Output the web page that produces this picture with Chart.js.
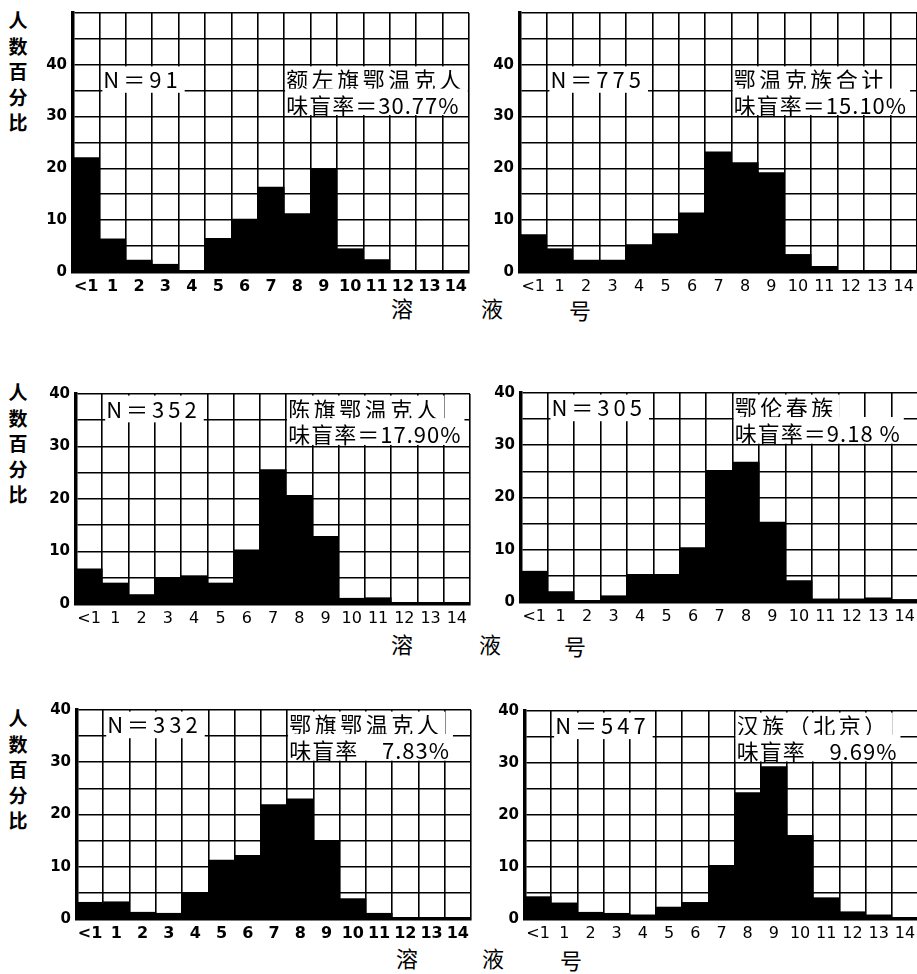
<!DOCTYPE html>
<html>
<head>
<meta charset="utf-8">
<script src="https://cdn.jsdelivr.net/npm/chart.js@4.4.1/dist/chart.umd.min.js"></script>
<style>
  body { margin: 0; background: #fff; width: 917px; height: 974px; overflow: hidden; position: relative; font-family: "Noto Sans CJK SC", sans-serif; }
  canvas { position: absolute; }
  .ytitle { position: absolute; left: 6px; width: 24px; font-size: 19px; line-height: 25.5px; font-weight: bold; text-align: center; }
  .xtitle { position: absolute; font-size: 22px; transform: translate(-50%, -50%); }
</style>
</head>
<body>
<div class="ytitle" style="top:7px">人<br>数<br>百<br>分<br>比</div>
<div class="ytitle" style="top:379px">人<br>数<br>百<br>分<br>比</div>
<div class="ytitle" style="top:705px">人<br>数<br>百<br>分<br>比</div>

<span class="xtitle" style="left:402px;top:307px">溶</span>
<span class="xtitle" style="left:492px;top:307px">液</span>
<span class="xtitle" style="left:580px;top:309px">号</span>
<span class="xtitle" style="left:402px;top:643px">溶</span>
<span class="xtitle" style="left:490px;top:643px">液</span>
<span class="xtitle" style="left:575px;top:645px">号</span>
<span class="xtitle" style="left:407px;top:957px">溶</span>
<span class="xtitle" style="left:493px;top:957px">液</span>
<span class="xtitle" style="left:571px;top:959px">号</span>

<script>
// 溶液号 (x categories)
const solutionNo = ["<1", "1", "2", "3", "4", "5", "6", "7", "8", "9", "10", "11", "12", "13", "14"];
const yLabelled = [0, 10, 20, 30, 40];

// 人数百分比 per panel
const zuoqiEwenki = [22.1, 6.4, 2.3, 1.5, 0, 6.5, 10.2, 16.4, 11.3, 20.0, 4.5, 2.4, 0, 0, 0];
const ewenkiTotal = [7.2, 4.5, 2.3, 2.3, 5.3, 7.4, 11.4, 23.2, 21.1, 19.2, 3.4, 1.1, 0, 0, 0];
const chenqiEwenki = [6.7, 4.0, 1.8, 5.0, 5.4, 4.0, 10.3, 25.6, 20.7, 12.9, 1.1, 1.2, 0, 0, 0];
const oroqen = [5.9, 2.0, 0.2, 1.2, 5.3, 5.3, 10.4, 25.2, 26.8, 15.3, 4.1, 0.6, 0.6, 0.8, 0.5];
const eqiEwenki = [3.2, 3.3, 1.3, 1.1, 5.1, 11.3, 12.2, 21.9, 23.0, 15.0, 3.9, 1.1, 0, 0, 0];
const hanBeijing = [4.3, 3.1, 1.3, 1.1, 0.8, 2.3, 3.2, 10.3, 24.3, 29.3, 16.1, 4.1, 1.4, 0.8, 0.3];

const sampleSizes = ["N＝91", "N＝775", "N＝352", "N＝305", "N＝332", "N＝547"];
const groupNames = ["额左旗鄂温克人", "鄂温克族合计", "陈旗鄂温克人", "鄂伦春族", "鄂旗鄂温克人", "汉族（北京）"];
const tasteBlindRates = ["味盲率＝30.77%", "味盲率＝15.10%", "味盲率＝17.90%", "味盲率＝9.18 %", "味盲率    7.83%", "味盲率    9.69%"];

// plot area in page pixels: left, top, right, bottom
const panels = [
  { data: zuoqiEwenki, yMax: 50, area: [73, 9.5, 469, 272], bold: true },
  { data: ewenkiTotal, yMax: 50, area: [520, 9.5, 917, 272] },
  { data: chenqiEwenki, yMax: 40, area: [76, 391, 470, 604] },
  { data: oroqen, yMax: 40, area: [521, 390, 918, 602] },
  { data: eqiEwenki, yMax: 40, area: [77, 707, 471, 919], bold: true },
  { data: hanBeijing, yMax: 40, area: [525, 708, 918, 919] },
];

const PAD_L = 45, PAD_T = 12, PAD_R = 6, PAD_B = 32;

// labels with white background over the grid
const panelText = {
  id: "panelText",
  afterDatasetsDraw(chart, args, opts) {
    const { ctx, chartArea, scales } = chart;
    const col = (chartArea.right - chartArea.left) / solutionNo.length;
    const y = scales.y;
    ctx.save();
    ctx.font = '22px "Noto Sans CJK SC"';
    ctx.textBaseline = "middle";
    const lines = [
      [opts.n, 1.15, 37.3, 39.7, 34.6, "4px"],
      [opts.name, 8.08, 37.3, 39.7, 34.6, "3.5px"],
      [opts.rate, 8.08, 32.4, 35.4, 30.3, "1px"],
    ];
    lines.forEach(([txt, c, v, top, bot, sp]) => {
      ctx.letterSpacing = sp;
      const x = chartArea.left + c * col;
      const w = ctx.measureText(txt).width;
      ctx.fillStyle = "#fff";
      ctx.fillRect(x - 1, y.getPixelForValue(top), w + 4, y.getPixelForValue(bot) - y.getPixelForValue(top));
      ctx.fillStyle = "#000";
      ctx.fillText(txt, x, y.getPixelForValue(v) + 1);
    });
    ctx.restore();
  },
};

panels.forEach(function (p, idx) {
  const [l, t, r, b] = p.area;
  const cv = document.createElement("canvas");
  cv.width = r - l + PAD_L + PAD_R;
  cv.height = b - t + PAD_T + PAD_B;
  cv.style.left = l - PAD_L + "px";
  cv.style.top = t - PAD_T + "px";
  document.body.appendChild(cv);

  new Chart(cv, {
    type: "bar",
    data: {
      labels: solutionNo,
      datasets: [
        {
          data: p.data,
          backgroundColor: "#000",
          borderWidth: 0,
          barPercentage: 1,
          categoryPercentage: 1,
        },
      ],
    },
    options: {
      responsive: false,
      animation: false,
      layout: { padding: { left: 0, top: PAD_T, right: PAD_R, bottom: 0 } },
      plugins: {
        legend: { display: false },
        tooltip: { enabled: false },
        panelText: { n: sampleSizes[idx], name: groupNames[idx], rate: tasteBlindRates[idx] },
      },
      scales: {
        x: {
          offset: true,
          grid: { color: "#000", lineWidth: 1.6, drawTicks: false, offset: true },
          border: { color: "#000", width: 3.5 },
          ticks: {
            color: "#000",
            padding: 5,
            autoSkip: false,
            maxRotation: 0,
            font: { family: "DejaVu Sans", size: 16, weight: p.bold ? "bold" : "normal" },
          },
          afterFit(scale) { scale.height = PAD_B; },
        },
        y: {
          min: 0,
          max: p.yMax,
          grid: { color: "#000", lineWidth: 1.6, drawTicks: false },
          border: { color: "#000", width: 3.5 },
          ticks: {
            stepSize: 5,
            color: "#000",
            padding: 6,
            font: { family: "DejaVu Sans", size: 15, weight: "bold" },
            callback: (v) => (yLabelled.includes(v) ? v : ""),
          },
          afterFit(scale) { scale.width = PAD_L; },
        },
      },
    },
    plugins: [panelText],
  });
});
</script>
</body>
</html>
